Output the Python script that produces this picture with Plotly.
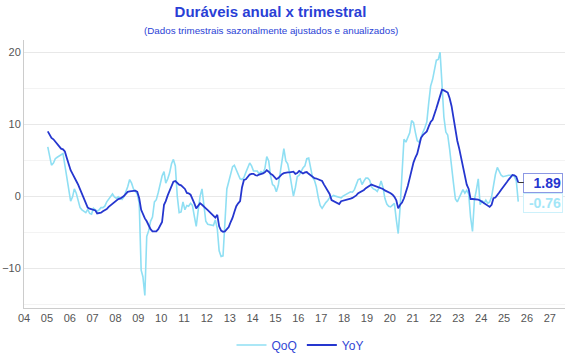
import plotly.graph_objects as go

# Monthly observations, Jan 2005 .. Aug 2025
start_year = 2005
yoy = [
    # 2005
    9.0, 8.6, 8.1, 7.9, 7.6, 7.3, 6.9, 6.6, 6.5, 6.2, 5.3, 4.3,
    # 2006
    3.6, 3.1, 2.7, 2.1, 1.6, 0.9, 0.3, -0.4, -1.0, -1.6, -1.75, -1.85,
    # 2007
    -1.9, -2.0, -2.4, -2.4, -2.3, -2.1, -2.0, -1.8, -1.5, -1.3, -1.0, -0.8,
    # 2008
    -0.6, -0.4, -0.35, -0.2, 0.0, 0.3, 0.6, 0.65, 0.7, 0.75, 0.75, 0.6,
    # 2009
    -0.3, -1.9, -2.5, -3.1, -3.5, -4.1, -4.6, -4.9, -4.95, -4.9, -4.6, -4.2,
    # 2010
    -3.6, -1.2, -0.7, 0.1, 0.7, 1.5, 2.0, 2.1, 1.85, 1.6, 1.5, 1.3,
    # 2011
    1.0, 0.45, 0.4, 0.2, -0.3, -1.0, -1.7, -1.3, -1.0, -1.2, -1.4, -1.7,
    # 2012
    -1.95, -2.2, -2.45, -2.7, -3.0, -2.6, -4.2, -4.8, -4.95, -4.9, -4.6, -4.3,
    # 2013
    -3.6, -3.0, -2.2, -1.4, -1.0, -0.7, 1.2, 2.25, 2.35, 2.7, 3.0, 3.1,
    # 2014
    3.1, 2.9, 2.85, 3.0, 3.05, 3.15, 3.3, 3.6, 3.4, 3.1, 2.95, 2.6,
    # 2015
    2.35, 2.5, 2.8, 3.05, 3.2, 3.3, 3.3, 3.3, 3.4, 3.4, 3.1, 3.2,
    # 2016
    3.5, 3.3, 3.15, 3.3, 3.35, 3.1, 2.9, 2.65, 2.5, 2.45, 2.35, 2.2,
    # 2017
    2.1, 1.6, 1.2, 0.6, 0.3, -0.55, -0.7, -0.85, -1.0, -1.1, -0.7, -0.65,
    # 2018
    -0.55, -0.5, -0.4, -0.35, -0.25, -0.1, 0.1, 0.4, 0.55, 0.65, 0.85, 1.1,
    # 2019
    1.3, 1.45, 1.6, 1.5, 1.4, 1.35, 1.25, 1.2, 1.0, 0.8, 0.7, 0.55,
    # 2020
    0.4, 0.2, -0.1, -0.6, -1.7, -1.2, -0.9, -0.3, 0.5, 1.4, 2.5, 3.6,
    # 2021
    4.7, 5.4, 5.9, 7.0, 8.1, 8.5, 8.7, 9.0, 9.7, 10.3, 10.6, 11.3,
    # 2022
    12.2, 13.1, 14.1, 14.8, 14.7, 14.6, 14.4, 13.6, 12.5, 10.9, 9.2, 7.7,
    # 2023
    6.6, 5.3, 3.7, 2.6, 1.6, 1.0, -0.4, -0.4, -0.4, -0.4, -0.5, -0.6,
    # 2024
    -0.8, -1.0, -1.2, -1.35, -1.5, -1.2, -0.3, -0.2, 0.1, 0.5, 0.9, 1.3,
    # 2025
    1.6, 1.95, 2.3, 2.6, 2.95, 2.9, 2.7, 1.89,
]
qoq = [
    # 2005
    6.85, 5.2, 4.3, 4.6, 5.2, 5.4, 5.6, 5.8, 5.9, 4.3, 2.6, 0.9,
    # 2006
    -0.7, -0.1, 1.0, 0.4, -0.6, -1.6, -1.9, -2.1, -2.3, -1.85, -2.4, -2.5,
    # 2007
    -1.7, -1.9, -2.1, -1.9, -1.6, -1.6, -1.4, -0.8, -0.45, -0.1, 0.3, -0.1,
    # 2008
    -0.3, -0.1, -0.3, -0.45, -0.1, 0.6, 1.3, 2.3, 1.8, 1.0, 0.7, 0.3,
    # 2009
    -1.0, -10.3, -11.2, -13.8, -5.6, -4.8, -3.5, -2.9, -0.8, -0.5, 0.5, 1.5,
    # 2010
    2.8, 3.4, 1.8, 2.4, 3.2, 4.5, 5.1, 4.2, 0.0, -2.3, -2.2, -0.8,
    # 2011
    -1.9, -1.3, -1.4, -1.0, -1.3, -2.8, -4.2, -2.0, 0.0, 1.0, -1.5, -3.5,
    # 2012
    -3.9, -4.0, -4.1, -4.1, -3.3, -4.5, -7.6, -8.4, -8.3, -3.5, 1.0, 2.0,
    # 2013
    3.0, 4.1, 4.3, 3.7, 2.9, 2.4, 2.3, 2.6, 3.3, 4.0, 4.6, 4.2,
    # 2014
    3.5, 3.5, 3.5, 3.1, 3.4, 3.2, 3.8, 5.5, 4.9, 2.8, 1.6, 1.4,
    # 2015
    0.6, 1.5, 3.0, 5.3, 6.6, 4.9, 4.5, 3.2, 1.4, 0.0, 1.2, 2.7,
    # 2016
    2.9, 3.5, 3.9, 4.2, 5.2, 5.3, 3.7, 2.6, 2.2, 1.3, -0.2, -1.3,
    # 2017
    -1.7, -1.2, -0.9, -0.6, -0.2, -0.1, 0.1, 0.0, -0.1, -0.25, -0.25, 0.0,
    # 2018
    0.15, 0.3, 0.5, 0.6, 0.55, 0.9, 1.6, 2.3, 2.4, 1.6, 2.1, 2.5,
    # 2019
    2.5, 2.2, 1.3, 1.0, 0.9, 0.65, 1.2, 2.1, 1.2, -0.3, -1.1, -1.4,
    # 2020
    -1.5, -1.2, -1.0, -3.3, -5.2, -1.5, 4.0, 7.9, 7.5, 8.1, 8.8, 10.5,
    # 2021
    10.2, 8.8, 7.7, 7.5, 8.3, 8.9, 9.5, 10.3, 13.0, 15.3, 16.2, 17.4,
    # 2022
    18.9, 19.0, 20.0, 15.5, 11.0, 8.9, 8.5, 6.5, 4.5, 1.8, -0.4, -0.8,
    # 2023
    -0.2, 0.4, 0.9, 0.4, 0.8, 0.3, -2.9, -4.9, -0.5, 0.8, 2.4, -1.2,
    # 2024
    -0.6, -1.0, -0.55, -1.0, -0.8, -0.1, 1.6, 3.0, 4.0, 3.5, 2.9, 2.7,
    # 2025
    2.8, 2.9, 2.9, 2.9, 2.9, 2.7, 2.1, -0.76,
]
dates = [f"{start_year + i // 12}-{i % 12 + 1:02d}-15" for i in range(len(yoy))]

title_text = "Duráveis anual x trimestral"
subtitle_text = "(Dados trimestrais sazonalmente ajustados e anualizados)"
series_names = ["QoQ", "YoY"]

LIGHT = "#8fdff3"
LIGHT_LABEL = "#a3e6f7"
DARK = "#2536cf"
TITLE_BLUE = "#2a3fd6"
FONT = "Liberation Sans, Arial, sans-serif"

fig = go.Figure()
fig.add_trace(go.Scatter(x=dates, y=qoq, mode="lines", name=series_names[0],
                         line=dict(color=LIGHT, width=1.6)))
fig.add_trace(go.Scatter(x=dates, y=yoy, mode="lines", name=series_names[1],
                         line=dict(color=DARK, width=1.8)))

fig.add_annotation(x=dates[-1], y=yoy[-1], xref="x", yref="y",
                   text=f"<b>{yoy[-1]:.2f}</b>", showarrow=True, arrowhead=0,
                   arrowwidth=1, arrowcolor="#333333", ax=25, ay=0,
                   font=dict(color=DARK, size=14, family=FONT),
                   bgcolor="white", bordercolor="#8c98e4", borderwidth=1,
                   borderpad=1, width=36, align="right")
fig.add_annotation(x=dates[-1], y=qoq[-1], xref="x", yref="y",
                   text=f"<b>{qoq[-1]:.2f}</b>", showarrow=True, arrowhead=0,
                   arrowwidth=1, arrowcolor="rgba(0,0,0,0)", ax=25, ay=1,
                   font=dict(color=LIGHT_LABEL, size=14, family=FONT),
                   bgcolor="white", bordercolor="#cdf1fb", borderwidth=1,
                   borderpad=1, width=36, align="right")

fig.add_annotation(x=(270.5 - 24) / 541, y=1.037, xref="paper", yref="paper",
                   text=subtitle_text, showarrow=False, yanchor="middle",
                   font=dict(color=TITLE_BLUE, size=9.8, family=FONT))

fig.update_layout(
    width=570, height=360,
    margin=dict(l=24, r=5, t=40, b=52, autoexpand=False),
    paper_bgcolor="white", plot_bgcolor="white",
    font=dict(family=FONT, color="#555555", size=11),
    title=dict(text=f"<b>{title_text}</b>", x=270.5 / 570, xanchor="center",
               xref="container",
               y=1 - 12 / 360, yref="container", yanchor="middle",
               font=dict(color=TITLE_BLUE, size=15, family=FONT)),
    showlegend=True,
    legend=dict(orientation="h", x=(300 - 24) / 541, xanchor="center", y=-0.138,
                yanchor="middle", font=dict(color="#3346d4", size=12),
                itemwidth=30, tracegroupgap=0),
    xaxis=dict(type="date", range=["2004-01-01", "2027-09-01"],
               tickformat="%y", dtick="M12", tick0="2004-01-01",
               showgrid=False, showline=True, linecolor="#cccccc",
               ticks="", zeroline=False, automargin=False,
               tickfont=dict(color="#555555", size=11)),
    yaxis=dict(range=[-15.55, 21.7], dtick=10, tick0=0,
               showgrid=True, gridcolor="#e8e8e8", gridwidth=1,
               minor=dict(dtick=5, showgrid=True, gridcolor="#f3f3f3"),
               showline=True, linecolor="#cccccc", zeroline=False,
               ticks="", automargin=False,
               tickfont=dict(color="#555555", size=11)),
)

fig.write_html("out.html",
               config={"displayModeBar": False},
               post_script="document.body.style.margin='0';"
                           "document.body.style.overflow='hidden';")
